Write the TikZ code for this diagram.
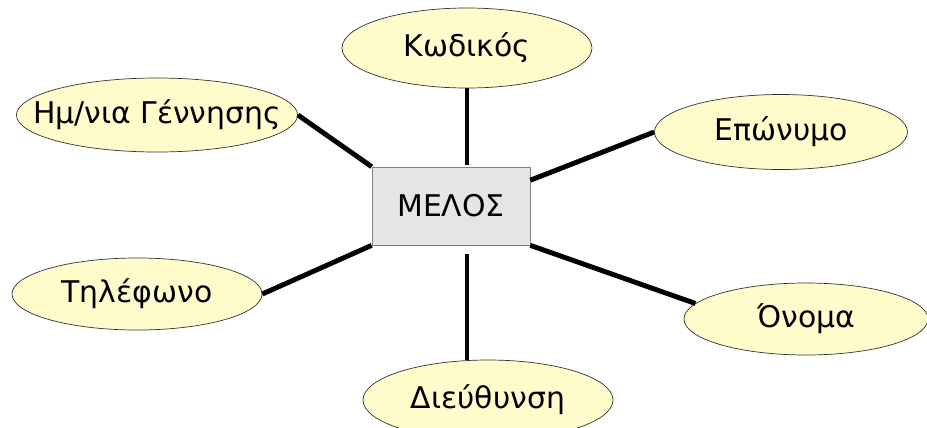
\documentclass[tikz,border=0pt]{standalone}
\usepackage{fontspec}
\setmainfont{DejaVu Sans}
\usetikzlibrary{shapes.geometric}

\tikzset{
  attr/.style={ellipse, draw=black!80, fill=yellow!20, inner xsep=-14pt, inner ysep=0pt, font=\fontsize{17}{20}\selectfont},
  entity/.style={rectangle, draw=black!50, fill=black!10, minimum width=158*0.02cm, minimum height=78*0.02cm, font=\fontsize{17}{20}\selectfont},
  link/.style={line width=2.8pt}
}

\begin{document}
\begin{tikzpicture}[x=0.02cm,y=-0.02cm]
      \useasboundingbox (0,0) rectangle (927,427);
      \draw
        (451,206) node[entity] (melos){ΜΕΛΟΣ}
        (467,48) node[attr, minimum width=250*0.02cm, minimum height=80*0.02cm] (kod){Κωδικός}
        (157,115) node[attr, minimum width=277*0.02cm, minimum height=74*0.02cm] (gen){Ημ/νια Γέννησης}
        (781,132) node[attr, minimum width=253*0.02cm, minimum height=75*0.02cm] (epo){Επώνυμο}
        (137,294) node[attr, minimum width=250*0.02cm, minimum height=72*0.02cm] (til){Τηλέφωνο}
        (806,319) node[attr, minimum width=244*0.02cm, minimum height=72*0.02cm] (ono){Όνομα}
        (488,400) node[attr, minimum width=250*0.02cm, minimum height=80*0.02cm] (dieu){Διεύθυνση};
      \begin{scope}[link]
        \draw (kod.south) -- ([yshift=1pt]kod.south |- melos.north);
        \draw (gen.east) -- (melos.north west);
        \draw (epo.west) -- (melos.18);
        \draw (til.east) -- (melos.south west);
        \draw (ono.172) -- (melos.south east);
        \draw ([yshift=-5pt]melos.south -| kod.south) -- (dieu.north -| kod.south);
      \end{scope}
    \end{tikzpicture}
\end{document}
